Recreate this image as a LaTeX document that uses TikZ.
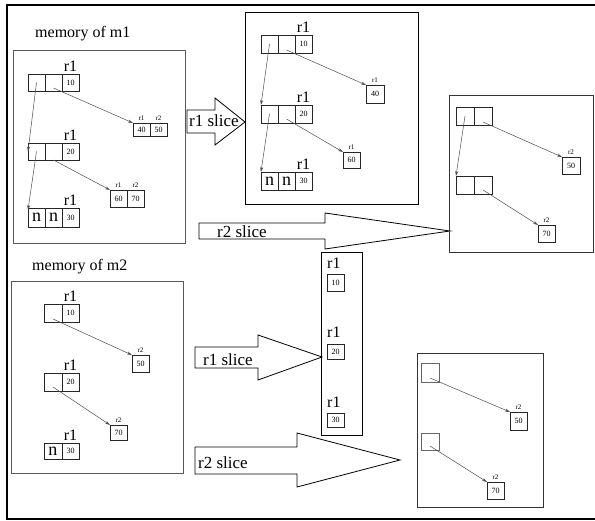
\documentclass[tikz,border=0pt]{standalone}
\usepackage{fontspec}
\setmainfont{Liberation Serif}
\usepackage{tikz}
\usetikzlibrary{arrows.meta,positioning}

\begin{document}
\begin{tikzpicture}[x=1pt,y=-1pt,
  cell/.style={draw=black!85,line width=0.6pt,minimum width=17pt,minimum height=17pt,
    inner sep=0pt,outer sep=0pt,font=\fontsize{8}{9}\selectfont},
  bigchar/.style={font=\fontsize{18}{18}\selectfont},
  rname/.style={font=\fontsize{16}{16}\selectfont,inner sep=0pt},
  tag/.style={font=\fontsize{7}{7}\selectfont,inner sep=0pt},
  title/.style={font=\fontsize{16}{16}\selectfont,inner sep=0pt,anchor=base west},
  ptr/.style={draw=black!70,line width=0.5pt,-{Stealth[length=5pt,width=3pt]}},
  memframe/.style={draw=black!65,line width=0.8pt,inner sep=0pt,anchor=north west},
  result/.style={draw=black,line width=1.1pt,inner sep=0pt,anchor=north west},
  slice/.style={draw=black,line width=0.8pt},
  slicetext/.style={font=\fontsize{17}{17}\selectfont,inner sep=0pt,anchor=base west}]
  \useasboundingbox (0,0) rectangle (595,521);
  \draw[line width=2pt] (595,5) -- (7,5) -- (7,519) -- (595,519);

  % memory of m1
  \node[title] (m1title) at (35,38) {memory of m1};
  \node[memframe,minimum width=172pt,minimum height=193pt] (m1box) at (13,50) {};
  \node[cell,anchor=north west] (m1a1) at (28,74) {};
  \node[cell,right=0pt of m1a1] (m1a2) {};
  \node[cell,right=0pt of m1a2] (m1a3) {10};
  \node[rname,above=2pt of m1a3] (m1ra) {r1};
  \node[cell,anchor=north west] (m1b1) at (28,143) {};
  \node[cell,right=0pt of m1b1] (m1b2) {};
  \node[cell,right=0pt of m1b2] (m1b3) {20};
  \node[rname,above=2pt of m1b3] (m1rb) {r1};
  \node[cell,bigchar,anchor=north west,minimum height=19pt] (m1c1) at (28,208) {n};
  \node[cell,bigchar,right=0pt of m1c1,minimum height=19pt] (m1c2) {n};
  \node[cell,right=0pt of m1c2,minimum height=19pt] (m1c3) {30};
  \node[rname,above=2pt of m1c3] (m1rc) {r1};
  \node[cell,minimum height=13pt,anchor=north west] (m1v1) at (133,123) {40};
  \node[cell,minimum height=13pt,right=0pt of m1v1] (m1v2) {50};
  \node[tag,above=2pt of m1v1] (m1t1) {r1};
  \node[tag,above=2pt of m1v2] (m1t2) {r2};
  \node[cell,anchor=north west] (m1v3) at (110,190) {60};
  \node[cell,right=0pt of m1v3] (m1v4) {70};
  \node[tag,above=2pt of m1v3] (m1t3) {r1};
  \node[tag,above=2pt of m1v4] (m1t4) {r2};
  \draw[ptr] (m1a1.center) -- (m1b1.west);
  \draw[ptr] ([yshift=3pt]m1a2.south) -- (m1v1.north west);
  \draw[ptr] (m1b1.center) -- ([yshift=-2pt]m1c1.north west);
  \draw[ptr] (m1b2.south) -- (m1v3.north west);

  % r1 slice of m1
  \draw[slice] (187,110) -- (215,110) -- (215,98) -- (245,122) -- (215,145)
    -- (215,133) -- (187,133) -- cycle;
  \node[slicetext] (s1lab) at (189,127) {r1 slice};
  \node[result,minimum width=173pt,minimum height=192pt] (s1box) at (245,12) {};
  \node[cell,anchor=north west,minimum height=18pt] (s1a1) at (261,35) {};
  \node[cell,right=0pt of s1a1,minimum height=18pt] (s1a2) {};
  \node[cell,right=0pt of s1a2,minimum height=18pt] (s1a3) {10};
  \node[rname,above=2pt of s1a3] (s1ra) {r1};
  \node[cell,anchor=north west,minimum height=18pt] (s1b1) at (261,105) {};
  \node[cell,right=0pt of s1b1,minimum height=18pt] (s1b2) {};
  \node[cell,right=0pt of s1b2,minimum height=18pt] (s1b3) {20};
  \node[rname,above=2pt of s1b3] (s1rb) {r1};
  \node[cell,bigchar,anchor=north west,minimum height=18pt] (s1c1) at (261,172) {n};
  \node[cell,bigchar,right=0pt of s1c1,minimum height=18pt] (s1c2) {n};
  \node[cell,right=0pt of s1c2,minimum height=18pt] (s1c3) {30};
  \node[rname,above=2pt of s1c3] (s1rc) {r1};
  \node[cell,anchor=north west,minimum width=18pt,minimum height=18pt] (s1v1) at (366,85) {40};
  \node[tag,above=2pt of s1v1] (s1t1) {r1};
  \node[cell,anchor=north west,minimum height=16pt] (s1v2) at (343,152) {60};
  \node[tag,above=2pt of s1v2] (s1t2) {r1};
  \draw[ptr] ([yshift=3pt]s1a2.south) -- (s1v1.north west);
  \draw[ptr] (s1a1.center) -- (s1b1.north west);
  \draw[ptr] ([yshift=4pt]s1b2.south) -- (s1v2.north west);
  \draw[ptr] (s1b1.center) -- (s1c1.north west);

  % r2 slice of m1
  \draw[slice] (199,223) -- (325,223) -- (325,213) -- (450,231) -- (325,249)
    -- (325,239) -- (199,239) -- cycle;
  \node[slicetext] (p1lab) at (217,238) {r2 slice};
  \node[result,draw=black!80,line width=0.9pt,minimum width=144pt,minimum height=157pt] (p1box) at (449,95) {};
  \node[cell,anchor=north west,minimum width=18pt,minimum height=18pt] (p1a1) at (456,107) {};
  \node[cell,right=0pt of p1a1,minimum width=18pt,minimum height=18pt] (p1a2) {};
  \node[cell,anchor=north west,minimum width=18pt,minimum height=18pt] (p1b1) at (456,176) {};
  \node[cell,right=0pt of p1b1,minimum width=18pt,minimum height=18pt] (p1b2) {};
  \node[cell,anchor=north west,minimum width=18pt] (p1v1) at (562,157) {50};
  \node[tag,above=2pt of p1v1] (p1t1) {r2};
  \node[cell,anchor=north west] (p1v2) at (538,225) {70};
  \node[tag,above=2pt of p1v2] (p1t2) {r2};
  \draw[ptr] ([yshift=3pt]p1a2.south) -- (p1v1.north west);
  \draw[ptr] (p1a1.center) -- (p1b1.north west);
  \draw[ptr] ([yshift=4pt]p1b2.south) -- (p1v2.north west);

  % memory of m2
  \node[title] (m2title) at (32,271) {memory of m2};
  \node[memframe,minimum width=172pt,minimum height=192pt] (m2box) at (11,281) {};
  \node[cell,anchor=north west,minimum width=18pt,minimum height=18pt] (m2a1) at (44,304) {};
  \node[cell,right=0pt of m2a1,minimum height=18pt] (m2a2) {10};
  \node[rname,above=2pt of m2a2] (m2ra) {r1};
  \node[cell,anchor=north west,minimum width=18pt,minimum height=18pt] (m2b1) at (44,373) {};
  \node[cell,right=0pt of m2b1,minimum height=18pt] (m2b2) {20};
  \node[rname,above=2pt of m2b2] (m2rb) {r1};
  \node[cell,bigchar,anchor=north west,minimum width=18pt,minimum height=16pt] (m2c1) at (44,443) {n};
  \node[cell,right=0pt of m2c1,minimum height=16pt] (m2c2) {30};
  \node[rname,above=2pt of m2c2] (m2rc) {r1};
  \node[cell,anchor=north west] (m2v1) at (132,355) {50};
  \node[tag,above=2pt of m2v1] (m2t1) {r2};
  \node[cell,anchor=north west,minimum height=15pt] (m2v2) at (110,425) {70};
  \node[tag,above=2pt of m2v2] (m2t2) {r2};
  \draw[ptr] ([yshift=3pt]m2a1.south) -- (m2v1.north west);
  \draw[ptr] ([yshift=4pt]m2b1.south) -- (m2v2.north west);

  % r1 slice of m2
  \draw[slice] (195,347) -- (258,347) -- (258,335) -- (322,357) -- (258,380)
    -- (258,368) -- (195,368) -- cycle;
  \node[slicetext] (c1lab) at (203,366) {r1 slice};
  \node[result,minimum width=41pt,minimum height=183pt] (c1box) at (321,252) {};
  \node[cell,anchor=north west] (c1v1) at (327,274) {10};
  \node[rname,above=5pt of c1v1.north west,anchor=south west] (c1r1) {r1};
  \node[cell,anchor=north west,minimum height=15pt] (c1v2) at (327,344) {20};
  \node[rname,above=6pt of c1v2.north west,anchor=south west] (c1r2) {r1};
  \node[cell,anchor=north west,minimum height=14pt] (c1v3) at (327,413) {30};
  \node[rname,above=5pt of c1v3.north west,anchor=south west] (c1r3) {r1};

  % r2 slice of m2
  \draw[slice] (195,447) -- (297,447) -- (297,433) -- (400,460) -- (297,487)
    -- (297,474) -- (195,474) -- cycle;
  \node[slicetext] (p2lab) at (198,468) {r2 slice};
  \node[result,draw=black!80,line width=0.9pt,minimum width=126pt,minimum height=154pt] (p2box) at (417,353) {};
  \node[cell,draw=black!60,anchor=north west,minimum width=18pt,minimum height=19pt] (p2a) at (421,363) {};
  \node[cell,draw=black!60,anchor=north west,minimum width=18pt] (p2b) at (421,433) {};
  \node[cell,anchor=north west,minimum height=18pt] (p2v1) at (510,412) {50};
  \node[tag,above=2pt of p2v1] (p2t1) {r2};
  \node[cell,anchor=north west] (p2v2) at (487,482) {70};
  \node[tag,above=2pt of p2v2] (p2t2) {r2};
  \draw[ptr] ([yshift=4pt]p2a.south) -- (p2v1.north west);
  \draw[ptr] ([yshift=4pt]p2b.south) -- (p2v2.north west);
\end{tikzpicture}
\end{document}
